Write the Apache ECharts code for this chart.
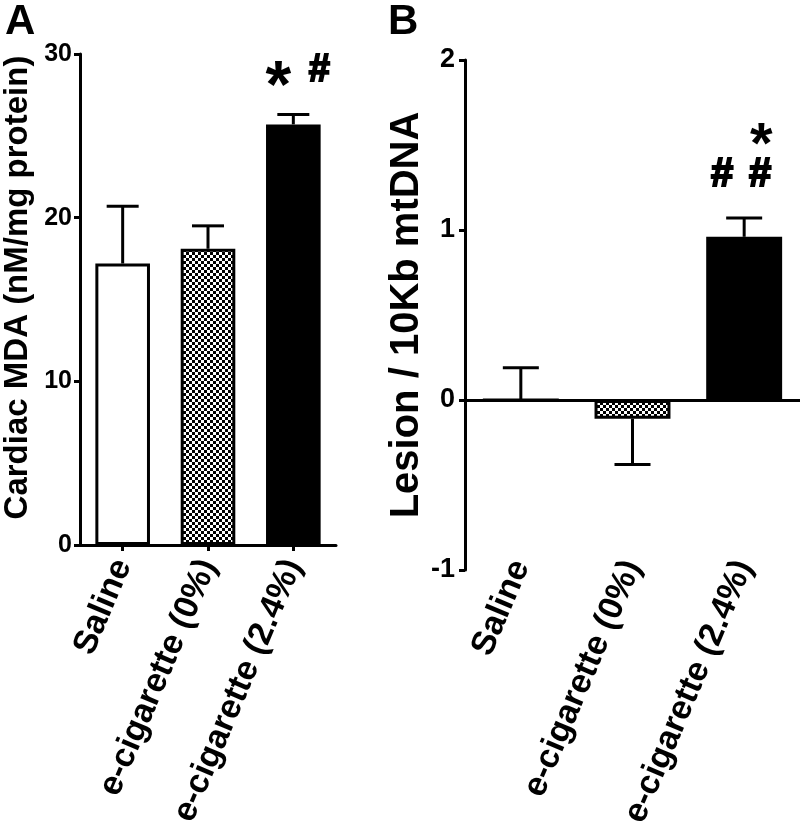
<!DOCTYPE html>
<html>
<head>
<meta charset="utf-8">
<script src="https://cdn.jsdelivr.net/npm/echarts@6/dist/echarts.min.js"></script>
<style>
html, body { margin: 0; padding: 0; background: #fff; }
#chart { width: 800px; height: 839px; }
</style>
</head>
<body>
<div id="chart"></div>
<script>
var categories = ['Saline', 'e-cigarette (0%)', 'e-cigarette (2.4%)']

// A: cardiac MDA (nM/mg protein)
var mdaMean = [17.2, 18.1, 25.7]
var mdaSem = [3.5, 1.4, 0.6]
var mdaTicks = [0, 10, 20, 30]
var mdaMarks = ['', '', '*#']

// B: lesion / 10Kb mtDNA
var lesionMean = [0, -0.11, 0.96]
var lesionSem = [0.19, 0.27, 0.11]
var lesionTicks = [-1, 0, 1, 2]
var lesionMarks = ['', '', '##*']

var FONT = '"Liberation Sans", Arial, Helvetica, sans-serif'

function checker() {
  var c = document.createElement('canvas')
  c.width = 6
  c.height = 6
  var ctx = c.getContext('2d')
  ctx.fillStyle = '#fff'
  ctx.fillRect(0, 0, 6, 6)
  ctx.fillStyle = '#000'
  ctx.fillRect(0, 0, 3, 3)
  ctx.fillRect(3, 3, 3, 3)
  return c
}
var fills = ['#fff', { image: checker(), repeat: 'repeat' }, '#000']

function barData(means) {
  return means.map(function(v, i) {
    return { value: v, itemStyle: { color: fills[i], borderColor: '#000', borderWidth: 3 } }
  })
}

// glyph offsets (px) from the top of the error bar, and glyph sizes, per panel
var markLayoutA = { pos: [[-15, -26], [26, -44]], star: 66, hash: 38 }
var markLayoutB = { pos: [[-22, -43], [16, -43], [17, -71]], star: 58, hash: 40 }

function errorSeries(means, sems, marks, layout, capHalf, xi, yi) {
  return {
    type: 'custom',
    xAxisIndex: xi,
    yAxisIndex: yi,
    silent: true,
    z: 3,
    data: means.map(function(m, i) { return [i, m, sems[i]] }),
    renderItem: function(params, api) {
      var i = api.value(0)
      var m = api.value(1)
      var s = api.value(2)
      var end = m < 0 ? m - s : m + s
      var p0 = api.coord([i, m])
      var p1 = api.coord([i, end])
      var st = { stroke: '#000', lineWidth: 3 }
      var kids = [
        { type: 'line', shape: { x1: p0[0], y1: p0[1], x2: p1[0], y2: p1[1] }, style: st },
        { type: 'line', shape: { x1: p1[0] - capHalf, y1: p1[1], x2: p1[0] + capHalf, y2: p1[1] }, style: st }
      ]
      var txt = marks[params.dataIndex] || ''
      for (var k = 0; k < txt.length; k++) {
        var ch = txt[k]
        var isStar = ch === '*'
        kids.push({
          type: 'text',
          style: {
            text: ch,
            x: p1[0] + layout.pos[k][0],
            y: p1[1] + layout.pos[k][1],
            align: 'center',
            verticalAlign: 'middle',
            fill: '#000',
            stroke: isStar ? null : '#000',
            lineWidth: isStar ? 0 : 2,
            fontSize: isStar ? layout.star : layout.hash,
            fontWeight: 'bold',
            fontFamily: FONT
          }
        })
      }
      return { type: 'group', children: kids }
    }
  }
}

var chart = echarts.init(document.getElementById('chart'))

var axisLine = { show: true, lineStyle: { color: '#000', width: 3 } }
var tickStyle = { show: true, length: 6, lineStyle: { color: '#000', width: 3 } }
var xLabel = { interval: 0, rotate: 67, color: '#000', fontSize: 34, fontWeight: 'bold', fontFamily: FONT, padding: [14, 0, 0, 0] }

chart.setOption({
  animation: false,
  title: [
    { text: 'A', left: 0, top: -4, textStyle: { fontSize: 42, fontWeight: 'bold', fontFamily: FONT, color: '#000' } },
    { text: 'B', left: 383, top: -4, textStyle: { fontSize: 42, fontWeight: 'bold', fontFamily: FONT, color: '#000' } }
  ],
  grid: [
    { left: 71, top: 54, width: 265, height: 491 },
    { left: 465, top: 60, width: 335, height: 510 }
  ],
  xAxis: [
    {
      type: 'category', gridIndex: 0, data: categories,
      axisLine: axisLine,
      axisTick: Object.assign({ alignWithLabel: true, interval: 0 }, tickStyle),
      axisLabel: Object.assign({ margin: 16 }, xLabel)
    },
    {
      type: 'category', gridIndex: 1, data: categories, position: 'bottom',
      axisLine: { show: false, onZero: false },
      axisTick: { show: false },
      axisLabel: Object.assign({ margin: -8 }, xLabel)
    }
  ],
  yAxis: [
    {
      type: 'value', gridIndex: 0, min: mdaTicks[0], max: mdaTicks[mdaTicks.length - 1], interval: 10,
      name: 'Cardiac MDA (nM/mg protein)', nameLocation: 'middle', nameGap: 46,
      nameTextStyle: { fontSize: 33, fontWeight: 'bold', fontFamily: FONT, color: '#000', padding: [0, 0, 0, 24] },
      axisLine: axisLine, axisTick: tickStyle, splitLine: { show: false },
      axisLabel: { margin: 8, color: '#000', fontSize: 25, fontWeight: 'bold', fontFamily: FONT }
    },
    {
      type: 'value', gridIndex: 1, min: lesionTicks[0], max: lesionTicks[lesionTicks.length - 1], interval: 1,
      name: 'Lesion / 10Kb mtDNA', nameLocation: 'middle', nameGap: 32,
      nameTextStyle: { fontSize: 40, fontWeight: 'bold', fontFamily: FONT, color: '#000' },
      axisLine: axisLine, axisTick: tickStyle, splitLine: { show: false },
      axisLabel: { margin: 10, color: '#000', fontSize: 27, fontWeight: 'bold', fontFamily: FONT }
    }
  ],
  series: [
    {
      type: 'bar', xAxisIndex: 0, yAxisIndex: 0, barWidth: '64%', silent: true,
      data: barData(mdaMean)
    },
    errorSeries(mdaMean, mdaSem, mdaMarks, markLayoutA, 16, 0, 0),
    {
      type: 'bar', xAxisIndex: 1, yAxisIndex: 1, barWidth: '68%', silent: true,
      data: barData(lesionMean),
      markLine: {
        silent: true, symbol: ['none', 'none'], label: { show: false },
        lineStyle: { color: '#000', width: 3, type: 'solid' },
        data: [{ yAxis: 0 }]
      }
    },
    errorSeries(lesionMean, lesionSem, lesionMarks, markLayoutB, 18, 1, 1)
  ]
})
</script>
</body>
</html>
